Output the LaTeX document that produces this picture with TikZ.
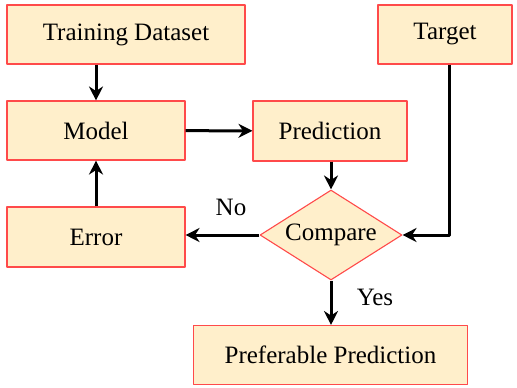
\documentclass[tikz,border=0pt]{standalone}
\usepackage{fontspec}
\setmainfont{Liberation Serif}
\usetikzlibrary{shapes.geometric, arrows.meta}
\usetikzlibrary{positioning}

\begin{document}
\begin{tikzpicture}[x=0.5pt, y=-0.5pt, line join=round,
  font=\fontsize{12.5}{15}\selectfont,
  block/.style={draw=boxred, fill=boxfill, line width=0.55pt, minimum height=29.5pt, inner sep=0pt},
  decide/.style={diamond, aspect=1.6, draw=boxred, fill=boxfill, line width=0.55pt, minimum width=71pt, minimum height=45pt, inner sep=0pt},
  flow/.style={line width=1.5pt, -{Stealth[length=7pt, width=7pt]}}]

\definecolor{boxred}{HTML}{FF4A4A}
\definecolor{boxfill}{HTML}{FFEFCB}

\useasboundingbox (0,0) rectangle (517,387);

\node[block, minimum width=119pt] (train) at (126,34.5) {Training Dataset};
\node[block, minimum width=67pt] (target) at (445,34.5) {Target};
\node[block, minimum width=89pt] (model) at (96,130.5) {Model};
\node[block, minimum width=77pt, minimum height=30pt] (pred) at (330,131) {Prediction};
\node[decide] (compare) at (331,235) {Compare};
\node[block, minimum width=89pt, minimum height=30pt] (error) at (96,237) {Error};
\node[block, minimum width=137pt] (pref) at (330.5,355) {Preferable Prediction};

\node (no) at (231,207) {No};
\node (yes) at (375,297) {Yes};

\draw[flow] (train.south -| model.north) -- (model.north);
\draw[flow] (model) -- (pred);
\draw[flow] (pred.south -| compare.north) -- (compare.north);
\draw[flow] ([xshift=2pt]target.south) |- (compare.east);
\draw[flow] (compare.west) -- (error.east |- compare.west);
\draw[flow] (error) -- (model);
\draw[flow] (compare.south) -- (pref.north -| compare.south);

\end{tikzpicture}
\end{document}
